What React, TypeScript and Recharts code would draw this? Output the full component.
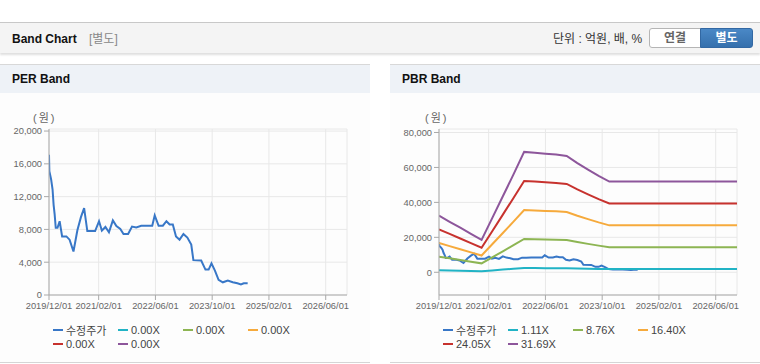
import React from 'react';
import { LineChart, Line, XAxis, YAxis, CartesianGrid, Legend } from 'recharts';

// ---------- data ----------
const xTickMonths = [0, 14, 30, 46, 62, 78];
const xTickLabels = ['2019/12/01', '2021/02/01', '2022/06/01', '2023/10/01', '2025/02/01', '2026/06/01'];
const perYTicks = [0, 4000, 8000, 12000, 16000, 20000];
const pbrYTicks = [0, 20000, 40000, 60000, 80000];

// months since 2019/12/01
const priceMonths = [0, 0.1, 0.6, 1.0, 1.3, 1.6, 1.9, 2.4, 3.0, 3.7, 4.9, 5.8, 6.9, 8.0, 9.0, 9.9, 10.8, 13.0, 14.1, 14.9, 15.9, 16.9, 18.0, 19.0, 20.1, 21.0, 22.3, 23.4, 24.6, 26.0, 29.1, 29.8, 30.9, 32.1, 33.1, 34.0, 34.9, 35.8, 36.8, 37.9, 39.0, 40.1, 40.7, 42.9, 44.1, 45.0, 45.8, 46.8, 47.8, 49.0, 50.4, 51.8, 53.1, 54.1, 54.9, 56.0];
const priceValues = [17100, 15100, 14100, 12900, 11000, 9800, 8200, 8200, 9000, 7150, 7150, 6750, 5300, 7900, 9500, 10600, 7800, 7800, 9000, 7850, 8300, 7650, 9100, 8400, 8050, 7450, 7450, 8350, 8250, 8450, 8450, 9700, 8450, 8450, 9000, 8600, 8600, 7150, 6750, 7450, 7000, 6150, 4250, 4200, 3100, 3100, 3850, 2950, 1850, 1550, 1750, 1560, 1430, 1280, 1430, 1420];

const bandMonths = [0, 3, 6, 9, 12, 15, 18, 21, 24, 27, 30, 33, 36, 39, 42, 45, 48, 84];
const pbr111 = [1135, 1012, 893, 771, 648, 1086, 1524, 1961, 2413, 2396, 2378, 2361, 2333, 2189, 2060, 1934, 1818, 1818];
const pbr876 = [8956, 7989, 7049, 6081, 5114, 8569, 12025, 15480, 19046, 18908, 18769, 18632, 18410, 17277, 16254, 15259, 14346, 14346];
const pbr1640 = [16767, 14957, 13197, 11385, 9574, 16042, 22512, 28980, 35657, 35398, 35139, 34881, 34466, 32344, 30430, 28567, 26858, 26858];
const pbr2405 = [24589, 21934, 19353, 16696, 14040, 23526, 33013, 42499, 52290, 51910, 51530, 51152, 50543, 47431, 44625, 41893, 39386, 39386];
const pbr3169 = [32400, 28900, 25500, 22000, 18500, 31000, 43500, 56000, 68900, 68400, 67900, 67400, 66600, 62500, 58800, 55200, 51900, 51900];

const perLegendNames = ['수정주가', '0.00X', '0.00X', '0.00X', '0.00X', '0.00X'];
const pbrLegendNames = ['수정주가', '1.11X', '8.76X', '16.40X', '24.05X', '31.69X'];
const seriesColors = ['#3877c7', '#21b3c5', '#8db553', '#f6aa3c', '#c7322e', '#8d569b'];

const priceData = priceMonths.map((m, i) => ({ m, v: priceValues[i] }));
const bandData = bandMonths.map((m, i) => ({
  m,
  b1: pbr111[i],
  b2: pbr876[i],
  b3: pbr1640[i],
  b4: pbr2405[i],
  b5: pbr3169[i],
}));

// ---------- styles ----------
const FONT = '"Liberation Sans", Arial, "Noto Sans CJK KR", sans-serif';
const AXIS = '#a9a9a9';
const GRID = '#e8e8e8';
const tickStyle = { fontSize: 9.3, fill: '#666', fontFamily: FONT };

const fmt = (v: number) => v.toLocaleString('en-US');
const fmtX = (v: number) => {
  const i = xTickMonths.indexOf(v);
  return i >= 0 ? xTickLabels[i] : '';
};

const makeLegend = (names: string[]) => () => (
  <div style={{ display: 'flex', flexWrap: 'wrap', width: 264, fontFamily: FONT }}>
    {names.map((n, i) => (
      <div key={i} style={{ width: 65, height: 14, display: 'flex', alignItems: 'center' }}>
        <span style={{ display: 'inline-block', width: 10, height: 2, background: seriesColors[i], marginRight: 3 }} />
        <span style={{ fontSize: 11, color: '#444', whiteSpace: 'nowrap' }}>{n}</span>
      </div>
    ))}
  </div>
);

const commonAxes = (domain: [number, number], yTicks: number[]) => [
  <CartesianGrid key="g" stroke={GRID} horizontal vertical />,
  <XAxis
    key="x"
    dataKey="m"
    type="number"
    domain={[0, 84]}
    ticks={xTickMonths}
    tickFormatter={fmtX}
    interval={0}
    height={20}
    tick={tickStyle}
    axisLine={{ stroke: AXIS }}
    tickLine={{ stroke: AXIS }}
    tickSize={5}
    allowDataOverflow
  />,
  <XAxis
    key="xt"
    xAxisId="top"
    orientation="top"
    dataKey="m"
    type="number"
    domain={[0, 84]}
    height={0}
    tick={false}
    tickLine={false}
    axisLine={{ stroke: AXIS }}
  />,
  <YAxis
    key="y"
    type="number"
    domain={domain}
    ticks={yTicks}
    tickFormatter={fmt}
    interval={0}
    width={49}
    tick={tickStyle}
    axisLine={{ stroke: AXIS }}
    tickLine={{ stroke: AXIS }}
    tickSize={5}
    allowDataOverflow
  />,
  <YAxis
    key="yr"
    yAxisId="r"
    orientation="right"
    type="number"
    domain={domain}
    width={0}
    tick={false}
    tickLine={false}
    axisLine={{ stroke: AXIS }}
  />,
];

const chartMargin = { top: 36, right: 23, bottom: 48, left: 0 };

function PerChart() {
  return (
    <LineChart width={370} height={270} data={priceData} margin={chartMargin}>
      {commonAxes([0, 20250], perYTicks)}
      <Line dataKey="v" name="수정주가" stroke={seriesColors[0]} strokeWidth={2} dot={false} isAnimationActive={false} />
      <Line dataKey="p1" name="0.00X" stroke={seriesColors[1]} strokeWidth={2} dot={false} isAnimationActive={false} />
      <Line dataKey="p2" name="0.00X" stroke={seriesColors[2]} strokeWidth={2} dot={false} isAnimationActive={false} />
      <Line dataKey="p3" name="0.00X" stroke={seriesColors[3]} strokeWidth={2} dot={false} isAnimationActive={false} />
      <Line dataKey="p4" name="0.00X" stroke={seriesColors[4]} strokeWidth={2} dot={false} isAnimationActive={false} />
      <Line dataKey="p5" name="0.00X" stroke={seriesColors[5]} strokeWidth={2} dot={false} isAnimationActive={false} />
      <Legend
        layout="horizontal"
        verticalAlign="middle"
        align="center"
        wrapperStyle={{ left: 53, top: 230, width: 264, height: 28 }}
        content={makeLegend(perLegendNames)}
      />
    </LineChart>
  );
}

function PbrChart() {
  return (
    <LineChart width={370} height={270} data={bandData} margin={chartMargin}>
      {commonAxes([-13000, 82000], pbrYTicks)}
      <Line data={priceData} dataKey="v" name="수정주가" stroke={seriesColors[0]} strokeWidth={2} dot={false} isAnimationActive={false} />
      <Line dataKey="b1" name="1.11X" stroke={seriesColors[1]} strokeWidth={2} dot={false} isAnimationActive={false} />
      <Line dataKey="b2" name="8.76X" stroke={seriesColors[2]} strokeWidth={2} dot={false} isAnimationActive={false} />
      <Line dataKey="b3" name="16.40X" stroke={seriesColors[3]} strokeWidth={2} dot={false} isAnimationActive={false} />
      <Line dataKey="b4" name="24.05X" stroke={seriesColors[4]} strokeWidth={2} dot={false} isAnimationActive={false} />
      <Line dataKey="b5" name="31.69X" stroke={seriesColors[5]} strokeWidth={2} dot={false} isAnimationActive={false} />
      <Legend
        layout="horizontal"
        verticalAlign="middle"
        align="center"
        wrapperStyle={{ left: 53, top: 230, width: 264, height: 28 }}
        content={makeLegend(pbrLegendNames)}
      />
    </LineChart>
  );
}

function Panel({ left, title, children }: { left: number; title: string; children: React.ReactNode }) {
  return (
    <div style={{ position: 'absolute', left, top: 64, width: 370, height: 300 }}>
      <div
        style={{
          position: 'absolute',
          left: 0,
          top: 0,
          width: 370,
          height: 28,
          background: '#eef2f7',
          borderTop: '1px solid #d8d8d8',
        }}
      >
        <span style={{ position: 'absolute', left: 12, top: 7, fontSize: 12, fontWeight: 'bold', color: '#111', lineHeight: '14px' }}>
          {title}
        </span>
      </div>
      <div style={{ position: 'absolute', left: 0, top: 29, width: 370, height: 270, background: '#fdfdfd' }}>{children}</div>
      <span
        style={{
          position: 'absolute',
          left: left === 0 ? 33 : 35,
          top: 47,
          fontSize: 11,
          color: '#666',
          lineHeight: '14px',
          letterSpacing: 2,
          whiteSpace: 'nowrap',
        }}
      >
        (원)
      </span>
      <div style={{ position: 'absolute', left: 0, top: 298, width: 370, height: 1, background: '#d5d5d5' }} />
    </div>
  );
}

export default function App() {
  return (
    <div
      style={{
        position: 'absolute',
        left: 0,
        top: 0,
        width: 760,
        height: 364,
        background: '#fff',
        fontFamily: FONT,
        overflow: 'hidden',
      }}
    >
      <div
        style={{
          position: 'absolute',
          left: 0,
          top: 22,
          width: 760,
          height: 30,
          background: '#f4f4f4',
          borderTop: '1px solid #c8c8c8',
          boxShadow: '0 2px 2px rgba(0,0,0,0.13)',
        }}
      >
        <span style={{ position: 'absolute', left: 12, top: 9, fontSize: 12, fontWeight: 'bold', color: '#111', lineHeight: '14px' }}>
          Band Chart
        </span>
        <span style={{ position: 'absolute', left: 89, top: 9, fontSize: 12, color: '#888', lineHeight: '14px' }}>[별도]</span>
        <span style={{ position: 'absolute', left: 553, top: 9, fontSize: 12, color: '#333', lineHeight: '14px' }}>
          단위 : 억원, 배, %
        </span>
        <div
          style={{
            position: 'absolute',
            left: 649,
            top: 5,
            width: 50,
            height: 18,
            background: '#fff',
            border: '1px solid #b5b5b5',
            borderRadius: '3px 0 0 3px',
            fontSize: 12,
            fontWeight: 'bold',
            color: '#666',
            textAlign: 'center',
            lineHeight: '18px',
          }}
        >
          연결
        </div>
        <div
          style={{
            position: 'absolute',
            left: 700,
            top: 5,
            width: 51,
            height: 18,
            background: 'linear-gradient(#4a88c6, #3570ad)',
            border: '1px solid #3268a3',
            borderRadius: '0 3px 3px 0',
            fontSize: 12,
            fontWeight: 'bold',
            color: '#fff',
            textAlign: 'center',
            lineHeight: '18px',
          }}
        >
          별도
        </div>
      </div>
      <Panel left={0} title="PER Band">
        <PerChart />
      </Panel>
      <Panel left={390} title="PBR Band">
        <PbrChart />
      </Panel>
    </div>
  );
}
